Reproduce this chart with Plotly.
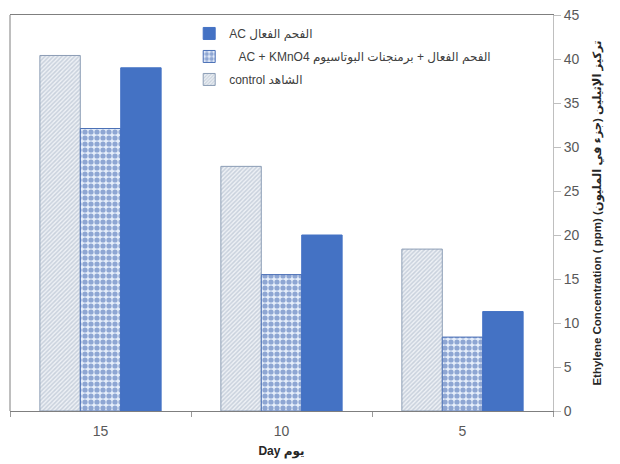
import plotly.graph_objects as go

# Ethylene concentration (ppm) by storage day for three treatments
days = ["15", "10", "5"]
control = [40.4, 27.8, 18.4]
ac_kmno4 = [32.1, 15.5, 8.4]
ac = [39.0, 20.0, 11.3]

name_control = "control الشاهد"
name_ac_kmno4 = "   AC + KMnO4 الفحم الفعال + برمنجنات البوتاسيوم"
name_ac = "AC الفحم الفعال"

FONT = "Liberation Sans, DejaVu Sans, sans-serif"

fig = go.Figure()

fig.add_trace(go.Bar(
    x=days, y=control, name=name_control, legendgroup="c", legendrank=3,
    marker=dict(
        color="#eef1f5",
        line=dict(color="#8c9db5", width=1),
        pattern=dict(shape="/", fgcolor="#a3b1c4", bgcolor="#eef1f5",
                     size=3, solidity=0.5),
    ),
))
fig.add_trace(go.Bar(
    x=days, y=ac_kmno4, name=name_ac_kmno4, legendgroup="k", legendrank=2,
    marker=dict(
        color="#e6eefa",
        line=dict(color="#4a6fb5", width=1),
        pattern=dict(shape=".", fgcolor="#355dab", bgcolor="#e6eefa",
                     size=6, solidity=0.6),
    ),
))
fig.add_trace(go.Bar(
    x=days, y=ac, name=name_ac, legendgroup="a", legendrank=1,
    marker=dict(color="#4472c4", line=dict(color="#4472c4", width=1)),
))

fig.update_layout(
    width=620, height=464,
    margin=dict(l=10, r=67, t=15, b=53),
    paper_bgcolor="white", plot_bgcolor="white",
    barmode="group", bargap=0.33, bargroupgap=0,
    font=dict(family=FONT, size=13, color="#595959"),
    showlegend=True,
    legend=dict(
        traceorder="grouped",
        x=0.33, y=0.99, xanchor="left", yanchor="top",
        bgcolor="rgba(0,0,0,0)",
        font=dict(family=FONT, size=12, color="#404040"),
        itemwidth=30, tracegroupgap=4,
    ),
    xaxis=dict(
        showline=True, linecolor="#7f7f7f", linewidth=1, mirror=True,
        ticks="outside", tickson="boundaries", ticklen=5, tickcolor="#9a9a9a",
        showgrid=False, ticklabelstandoff=7, automargin=False,
        tickfont=dict(size=14, color="#595959"),
        title=dict(text="\u200eDay يوم", standoff=8,
                   font=dict(size=12, color="#262626", weight="bold")),
    ),
    yaxis=dict(
        side="right", range=[0, 45], dtick=5, automargin=False,
        showline=True, linecolor="#bfbfbf", linewidth=1,
        ticks="outside", ticklen=7, tickcolor="#bfbfbf",
        showgrid=False, zeroline=False,
        tickfont=dict(size=14, color="#595959"),
        title=dict(text="Ethylene Concentration ( ppm) تركيز الإثيلين (جزء في المليون)",
                   standoff=14, font=dict(size=11.5, color="#262626", weight="bold")),
    ),
    shapes=[dict(type="line", xref="paper", yref="paper", x0=0, x1=0, y0=0, y1=1,
                 line=dict(color="#7f7f7f", width=1))],
)

fig.write_html("out.html")
